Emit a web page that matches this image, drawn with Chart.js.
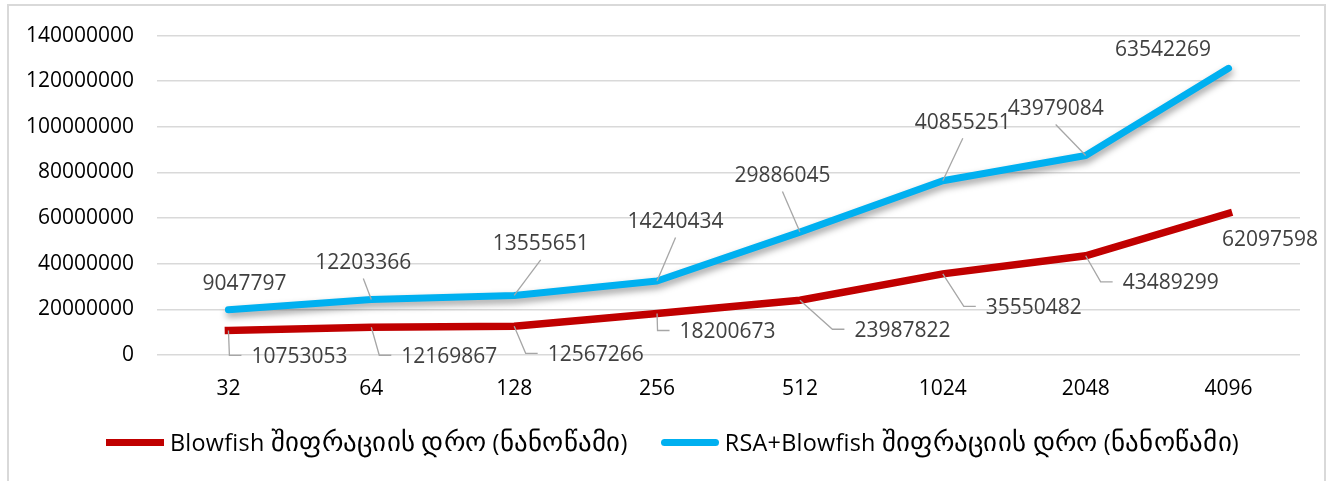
<!DOCTYPE html>
<html>
<head>
<meta charset="utf-8">
<title>Blowfish / RSA+Blowfish</title>
<script src="https://cdn.jsdelivr.net/npm/chart.js@4.4.1/dist/chart.umd.min.js"></script>
<style>
  /* Georgian glyphs come from DejaVu Sans, enlarged a little to sit with the Latin text */
  @font-face {
    font-family: "GeorgianText";
    src: local("DejaVu Sans"), local("DejaVuSans");
    unicode-range: U+10A0-10FF, U+1C90-1CBF, U+2D00-2D2F;
    size-adjust: 117%;
  }
  html, body { margin: 0; padding: 0; background: #ffffff; }
  #wrap { position: relative; width: 1333px; height: 481px; overflow: hidden; }
  #frame { position: absolute; left: 7px; top: 4px; width: 1319px; height: 520px;
           border: 2px solid #d9d9d9; box-sizing: border-box; }
  #chart { position: absolute; left: 0; top: 0; }
  #legend { position: absolute; left: 106px; top: 426px; height: 32px;
            display: flex; align-items: center; letter-spacing: 0.25px;
            font-family: "Open Sans", "GeorgianText", "DejaVu Sans", sans-serif; font-size: 23.4px; color: #000; }
  .item { display: flex; align-items: center; margin-right: 33px; white-space: nowrap; }
  .swatch { width: 58px; height: 7px; margin-right: 6px; }
</style>
</head>
<body>
<div id="wrap">
  <div id="frame"></div>
  <canvas id="chart" width="1333" height="481"></canvas>
  <div id="legend"></div>
</div>
<script>
// Key sizes (bits) on the category axis
const keySizes = ['32', '64', '128', '256', '512', '1024', '2048', '4096'];

// Encryption time in nanoseconds
const blowfishTime = [10753053, 12169867, 12567266, 18200673, 23987822, 35550482, 43489299, 62097598];
const rsaBlowfishTime = [9047797, 12203366, 13555651, 14240434, 29886045, 40855251, 43979084, 63542269];

// Series names
const seriesNames = ['Blowfish შიფრაციის დრო (ნანოწამი)', 'RSA+Blowfish შიფრაციის დრო (ნანოწამი)'];

// Value axis range
const yAxisMin = 0;
const yAxisMax = 140000000;
const yAxisStep = 20000000;

// Where each value label sits relative to its point (px), and how its leader is drawn
const blowfishLabelPlacement = [
  { dx: 71,    dy: 25,   leader: 'elbow' },
  { dx: 78,    dy: 28,   leader: 'elbow' },
  { dx: 81.5,  dy: 27,   leader: 'elbow' },
  { dx: 70.5,  dy: 17,   leader: 'elbow' },
  { dx: 102.5, dy: 29,   leader: 'elbow' },
  { dx: 91,    dy: 32.5, leader: 'elbow' },
  { dx: 85,    dy: 26,   leader: 'elbow' },
  { dx: 41.5,  dy: 25,   leader: 'none' }
];
const rsaLabelPlacement = [
  { dx: 16,    dy: -27.5, leader: 'none' },
  { dx: -8,    dy: -38,   leader: 'straight' },
  { dx: 26.5,  dy: -52.5, leader: 'straight' },
  { dx: 18.5,  dy: -60.5, leader: 'straight' },
  { dx: -17.5, dy: -57.5, leader: 'straight' },
  { dx: 20,    dy: -59.5, leader: 'straight' },
  { dx: -30,   dy: -48,   leader: 'straight' },
  { dx: -65.5, dy: -19.5, leader: 'none' }
];

const NUM_FONT = '"Open Sans", "DejaVu Sans", sans-serif';
const NUM_SIZE = 21;

// Soft drop shadow under the blue series
const lineShadow = {
  id: 'lineShadow',
  beforeDatasetDraw(chart, args) {
    const ds = chart.data.datasets[args.index];
    if (!ds.shadow) return;
    const ctx = chart.ctx;
    ctx.save();
    ctx.shadowColor = 'rgba(0,0,0,0.38)';
    ctx.shadowBlur = 7;
    ctx.shadowOffsetX = 1;
    ctx.shadowOffsetY = 4;
  },
  afterDatasetDraw(chart, args) {
    const ds = chart.data.datasets[args.index];
    if (!ds.shadow) return;
    chart.ctx.restore();
  }
};

// Value labels with leader lines
const valueLabels = {
  id: 'valueLabels',
  afterDatasetsDraw(chart) {
    const ctx = chart.ctx;
    ctx.save();
    ctx.font = NUM_SIZE + 'px ' + NUM_FONT;
    ctx.textAlign = 'center';
    ctx.textBaseline = 'alphabetic';
    chart.data.datasets.forEach((ds, di) => {
      const meta = chart.getDatasetMeta(di);
      meta.data.forEach((pt, i) => {
        const place = ds.labelPlacement[i];
        const text = String(ds.data[i]);
        const cx = pt.x + place.dx;
        const cy = pt.y + place.dy;
        const w = ctx.measureText(text).width;
        const left = cx - w / 2;
        ctx.strokeStyle = '#a6a6a6';
        ctx.lineWidth = 1.3;
        if (place.leader === 'elbow') {
          ctx.beginPath();
          ctx.moveTo(pt.x, pt.y);
          ctx.lineTo(left - 22, cy);
          ctx.lineTo(left - 10, cy);
          ctx.stroke();
        } else if (place.leader === 'straight') {
          ctx.beginPath();
          ctx.moveTo(cx, cy + 17);
          ctx.lineTo(pt.x, pt.y);
          ctx.stroke();
        }
        ctx.fillStyle = '#404040';
        ctx.fillText(text, cx, cy + NUM_SIZE * 0.357);
      });
    });
    ctx.restore();
  }
};

const chart = new Chart(document.getElementById('chart'), {
  type: 'line',
  data: {
    labels: keySizes,
    datasets: [
      {
        label: seriesNames[0],
        data: blowfishTime,
        borderColor: '#c00000',
        backgroundColor: '#c00000',
        borderWidth: 7.5,
        borderCapStyle: 'square',
        borderJoinStyle: 'miter',
        pointRadius: 0,
        pointHoverRadius: 0,
        tension: 0,
        fill: false,
        labelPlacement: blowfishLabelPlacement
      },
      {
        label: seriesNames[1],
        data: rsaBlowfishTime,
        borderColor: '#00b0f0',
        backgroundColor: '#00b0f0',
        borderWidth: 7,
        borderCapStyle: 'round',
        borderJoinStyle: 'round',
        pointRadius: 0,
        pointHoverRadius: 0,
        tension: 0,
        fill: false,
        shadow: true,
        labelPlacement: rsaLabelPlacement
      }
    ]
  },
  options: {
    responsive: false,
    animation: false,
    events: [],
    layout: { padding: { top: 33, right: 33, left: 0, bottom: 0 } },
    plugins: {
      legend: { display: false },
      tooltip: { enabled: false },
      title: { display: false }
    },
    scales: {
      x: {
        offset: true,
        grid: { display: false, drawTicks: false },
        border: { display: false },
        ticks: {
          color: '#000000',
          padding: 21,
          maxRotation: 0,
          font: { family: NUM_FONT, size: NUM_SIZE }
        },
        afterFit(scale) { scale.height = 126; }
      },
      y: {
        stacked: true,
        min: yAxisMin,
        max: yAxisMax,
        grid: { color: '#d9d9d9', lineWidth: 1.6, drawTicks: false },
        border: { display: false },
        ticks: {
          stepSize: yAxisStep,
          color: '#000000',
          padding: 23,
          font: { family: NUM_FONT, size: NUM_SIZE },
          callback: (v) => String(v)
        },
        afterFit(scale) { scale.width = 157; }
      }
    }
  },
  plugins: [lineShadow, valueLabels]
});

// Legend built from the chart's own legend items
const legendEl = document.getElementById('legend');
chart.options.plugins.legend.labels.generateLabels(chart).forEach((item, i) => {
  const row = document.createElement('div');
  row.className = 'item';
  const sw = document.createElement('span');
  sw.className = 'swatch';
  sw.style.background = item.strokeStyle;
  if (chart.data.datasets[i].borderCapStyle === 'round') sw.style.borderRadius = '4px';
  const label = document.createElement('span');
  label.textContent = item.text;
  row.appendChild(sw);
  row.appendChild(label);
  legendEl.appendChild(row);
});
</script>
</body>
</html>
